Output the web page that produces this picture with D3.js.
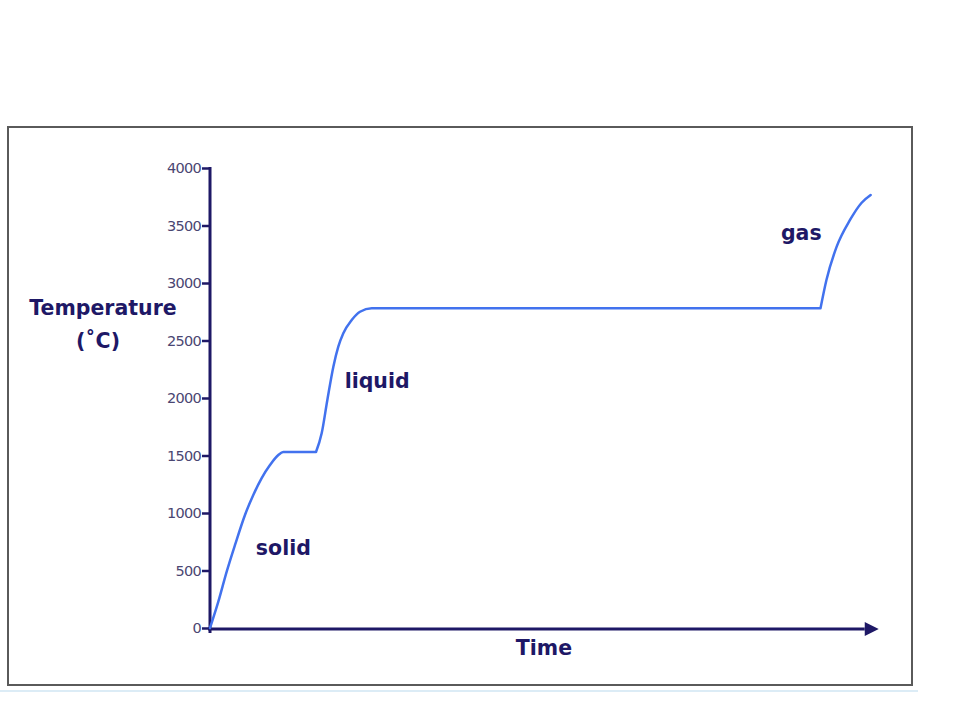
<!DOCTYPE html>
<html>
<head>
<meta charset="utf-8">
<script src="https://cdn.jsdelivr.net/npm/d3@7/dist/d3.min.js"></script>
<style>
  html, body { margin: 0; padding: 0; background: #fff; }
  svg { display: block; }
</style>
</head>
<body>
<svg id="chart" width="960" height="720"></svg>
<script>
// ---- data ----
const timeValues = [0, 1.26, 2.53, 3.79, 5.30, 6.56, 7.83, 9.09, 10.35, 11.1, 16.06, 16.92, 17.78, 18.69, 19.44, 20.2, 21.47, 22.73, 24.5, 92.5, 93.4, 94.95, 96.97, 98.7, 100.1];
const temperatureValues = [0, 229, 490, 722, 983, 1157, 1304, 1417, 1504, 1530, 1530, 1693, 1983, 2272, 2446, 2563, 2678, 2750, 2780, 2780, 3026, 3316, 3548, 3696, 3765];
const yTickValues = [0, 500, 1000, 1500, 2000, 2500, 3000, 3500, 4000];
const phaseLabels = ["solid", "liquid", "gas"];
const phaseTimes = [6.95, 20.4, 86.5];
const phaseTemps = [635, 2087, 3374];
const xAxisTitle = "Time";
const yAxisTitleLines = ["Temperature", "(˚C)"];

// ---- layout ----
const svg = d3.select("#chart");
const navy = "#1e1866";
const font = "'DejaVu Sans', Verdana, sans-serif";
const x = d3.scaleLinear().domain([0, 100]).range([210, 870]);
const y = d3.scaleLinear().domain([0, 4000]).range([628, 168]);

// light line below frame
svg.append("line").attr("x1", 0).attr("x2", 918).attr("y1", 691).attr("y2", 691)
  .attr("stroke", "#dcecf6").attr("stroke-width", 2);

// frame
svg.append("rect").attr("x", 8).attr("y", 127).attr("width", 904).attr("height", 558)
  .attr("fill", "#fff").attr("stroke", "#5a5a5a").attr("stroke-width", 2);

// y axis
const yAxis = d3.axisLeft(y).tickValues(yTickValues).tickFormat(d3.format("d"))
  .tickSize(8).tickSizeOuter(0).tickPadding(1);
const gy = svg.append("g").attr("transform", "translate(210,0)").call(yAxis);
gy.select(".domain").attr("stroke", navy).attr("stroke-width", 3).attr("d", "M0,167V633");
gy.selectAll(".tick line").attr("stroke", navy).attr("stroke-width", 2.5);
gy.selectAll(".tick text").attr("fill", "#4a4672").attr("font-family", font)
  .attr("font-size", 14.5).style("letter-spacing", "-0.7px");

// x axis with arrow
svg.append("defs").append("marker").attr("id", "arrow")
  .attr("viewBox", "0 0 10 10").attr("refX", 0).attr("refY", 5)
  .attr("markerUnits", "userSpaceOnUse").attr("markerWidth", 17).attr("markerHeight", 14)
  .attr("orient", "auto")
  .append("path").attr("d", "M0,0L10,5L0,10Z").attr("fill", navy);
svg.append("line").attr("x1", x(0) - 2).attr("x2", x(99.2)).attr("y1", y(0) + 1).attr("y2", y(0) + 1)
  .attr("stroke", navy).attr("stroke-width", 3).attr("marker-end", "url(#arrow)");

// curve: split where a rise starts right after a flat plateau (sharp corner)
const pts = timeValues.map((t, i) => [t, temperatureValues[i]]);
const segments = [];
let cur = [pts[0]];
for (let i = 1; i < pts.length; i++) {
  cur.push(pts[i]);
  const flatBefore = pts[i][1] === pts[i - 1][1];
  const riseAfter = i + 1 < pts.length && pts[i + 1][1] > pts[i][1];
  if (flatBefore && riseAfter) { segments.push(cur); cur = [pts[i]]; }
}
segments.push(cur);
const line = d3.line().x(d => x(d[0])).y(d => y(d[1])).curve(d3.curveMonotoneX);
svg.append("path").attr("d", segments.map(s => line(s)).join(""))
  .attr("fill", "none").attr("stroke", "#4272ee").attr("stroke-width", 2.5)
  .attr("stroke-linejoin", "round").attr("stroke-linecap", "round");

// texts
svg.selectAll("text.phase").data(phaseLabels).enter().append("text")
  .attr("class", "phase")
  .attr("x", (d, i) => x(phaseTimes[i])).attr("y", (d, i) => y(phaseTemps[i]))
  .attr("fill", navy).attr("font-family", font).attr("font-weight", "bold").attr("font-size", 20.5)
  .text(d => d);

svg.append("text").attr("x", 544).attr("y", 655).attr("text-anchor", "middle")
  .attr("fill", navy).attr("font-family", font).attr("font-weight", "bold").attr("font-size", 20.5)
  .text(xAxisTitle);

svg.selectAll("text.ytitle").data(yAxisTitleLines).enter().append("text")
  .attr("class", "ytitle")
  .attr("x", (d, i) => i === 0 ? 103 : 98).attr("y", (d, i) => 315 + i * 33).attr("text-anchor", "middle")
  .attr("fill", navy).attr("font-family", font).attr("font-weight", "bold").attr("font-size", 20.5)
  .text(d => d);
</script>
</body>
</html>
